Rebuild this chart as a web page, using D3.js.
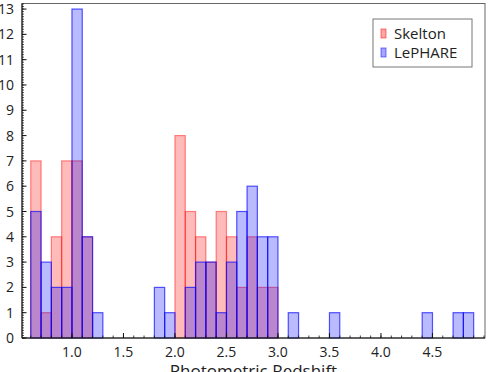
<!DOCTYPE html>
<html>
<head>
<meta charset="utf-8">
<script src="https://cdn.jsdelivr.net/npm/d3@7"></script>
<style>
	body { margin: 0; background: #fff; }
	svg text { font-family: "Open Sans", "DejaVu Sans", sans-serif; fill: #222; }
</style>
</head>
<body>
<div id="chart"></div>
<script>

// Histogram bins (left edge of each 0.1 wide bin)
var binStarts = [0.6, 0.7, 0.8, 0.9, 1.0, 1.1, 1.2, 1.3, 1.4, 1.5, 1.6, 1.7, 1.8, 1.9,
	2.0, 2.1, 2.2, 2.3, 2.4, 2.5, 2.6, 2.7, 2.8, 2.9, 3.0, 3.1, 3.2, 3.3, 3.4, 3.5,
	3.6, 3.7, 3.8, 3.9, 4.0, 4.1, 4.2, 4.3, 4.4, 4.5, 4.6, 4.7, 4.8];
var binWidth = 0.1;

var skeltonCounts = [7, 1, 4, 7, 7, 4, 0, 0, 0, 0, 0, 0, 0, 0,
	8, 5, 4, 3, 5, 4, 2, 4, 2, 2, 0, 0, 0, 0, 0, 0,
	0, 0, 0, 0, 0, 0, 0, 0, 0, 0, 0, 0, 0];
var lephareCounts = [5, 3, 2, 2, 13, 4, 1, 0, 0, 0, 0, 0, 2, 1,
	0, 2, 3, 3, 1, 3, 5, 6, 4, 4, 0, 1, 0, 0, 0, 1,
	0, 0, 0, 0, 0, 0, 0, 0, 1, 0, 0, 1, 1];

var seriesNames = ["Skelton", "LePHARE"];
var xTicks = [1.0, 1.5, 2.0, 2.5, 3.0, 3.5, 4.0, 4.5];
var yTicks = [0, 1, 2, 3, 4, 5, 6, 7, 8, 9, 10, 11, 12, 13];
var xLabel = "Photometric Redshift";

// Drawing parameters
var width = 490, height = 372;
var plotLeft = 22, plotRight = 485, plotTop = 3.5, plotBottom = 338;
var fontSize = 14;
var colors = { "Skelton": "#ff0000", "LePHARE": "#0000ff" };

var svg = d3.select("#chart").append("svg")
	.attr("width", width).attr("height", height);

var x = d3.scaleLinear().domain([0.515, 5.01]).range([plotLeft, plotRight]);
var y = d3.scaleLinear().domain([0, 13.22]).range([plotBottom, plotTop]);

function drawBars(counts, name) {
	var data = binStarts.map(function(b, i) { return { x0: b, n: counts[i] }; })
		.filter(function(d) { return d.n > 0; });
	svg.append("g").selectAll("rect").data(data).enter().append("rect")
		.attr("x", function(d) { return x(d.x0); })
		.attr("width", function(d) { return x(d.x0 + binWidth) - x(d.x0); })
		.attr("y", function(d) { return y(d.n); })
		.attr("height", function(d) { return y(0) - y(d.n); })
		.attr("fill", colors[name]).attr("fill-opacity", 0.27)
		.attr("stroke", colors[name]).attr("stroke-opacity", name == "Skelton" ? 0.45 : 0.65)
		.attr("stroke-width", 1.2);
}

drawBars(skeltonCounts, "Skelton");
drawBars(lephareCounts, "LePHARE");

// Frame
svg.append("rect")
	.attr("x", plotLeft).attr("y", plotTop)
	.attr("width", plotRight - plotLeft).attr("height", plotBottom - plotTop)
	.attr("fill", "none").attr("stroke", "#666").attr("stroke-width", 1);

// X axis, ticks pointing inward
var xAxis = svg.append("g").attr("transform", "translate(0," + plotBottom + ")");
xAxis.append("line").attr("x1", plotLeft).attr("x2", plotRight).attr("stroke", "#111");
xAxis.selectAll(".minor").data(x.ticks(45)).enter().append("line")
	.attr("x1", function(d) { return x(d); }).attr("x2", function(d) { return x(d); })
	.attr("y1", 0).attr("y2", -2.5).attr("stroke", "#111").attr("stroke-width", 0.8);
xAxis.selectAll(".major").data(xTicks).enter().append("line")
	.attr("x1", function(d) { return x(d); }).attr("x2", function(d) { return x(d); })
	.attr("y1", 0).attr("y2", -5).attr("stroke", "#111");
xAxis.selectAll("text").data(xTicks).enter().append("text")
	.attr("x", function(d) { return x(d); }).attr("y", 19)
	.attr("text-anchor", "middle").style("font-size", fontSize + "px")
	.text(function(d) { return d3.format(".1f")(d); });

// axis title sits partly below the window, as in the original
svg.append("text")
	.attr("x", (plotLeft + plotRight) / 2).attr("y", 377)
	.attr("text-anchor", "middle").style("font-size", "17px")
	.text(xLabel);

// Y axis
var yAxis = svg.append("g").attr("transform", "translate(" + plotLeft + ",0)");
yAxis.append("line").attr("y1", plotTop).attr("y2", plotBottom).attr("stroke", "#111");
yAxis.selectAll(".minor").data(y.ticks(130)).enter().append("line")
	.attr("y1", function(d) { return y(d); }).attr("y2", function(d) { return y(d); })
	.attr("x1", 0).attr("x2", 2).attr("stroke", "#111").attr("stroke-width", 0.7);
yAxis.selectAll(".major").data(yTicks).enter().append("line")
	.attr("y1", function(d) { return y(d); }).attr("y2", function(d) { return y(d); })
	.attr("x1", 0).attr("x2", 4.5).attr("stroke", "#111");
yAxis.selectAll("text").data(yTicks).enter().append("text")
	.attr("x", -8).attr("y", function(d) { return y(d); }).attr("dy", "0.36em")
	.attr("text-anchor", "end").style("font-size", fontSize + "px")
	.text(function(d) { return d; });

// Legend
var legend = svg.append("g").attr("transform", "translate(373,19)");
legend.append("rect").attr("width", 99).attr("height", 48)
	.attr("fill", "#fff").attr("stroke", "#777").attr("stroke-width", 1);
seriesNames.forEach(function(name, i) {
	var row = legend.append("g").attr("transform", "translate(0," + (15 + i * 19) + ")");
	row.append("rect").attr("x", 8).attr("y", -5).attr("width", 5).attr("height", 9)
		.attr("fill", colors[name]).attr("fill-opacity", 0.35)
		.attr("stroke", colors[name]).attr("stroke-opacity", 0.5);
	row.append("text").attr("x", 21).attr("y", 0).attr("dy", "0.36em")
		.style("font-size", "15px").text(name);
});

</script>
</body>
</html>
